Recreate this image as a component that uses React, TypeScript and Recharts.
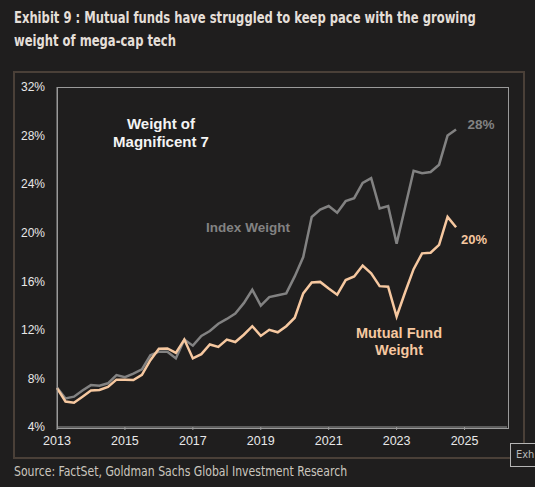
import { LineChart, Line, XAxis, YAxis } from 'recharts'

// quarterly points, Q1 2013 .. Q4 2024
const quarters = [
  2013, 2013.25, 2013.5, 2013.75, 2014, 2014.25, 2014.5, 2014.75,
  2015, 2015.25, 2015.5, 2015.75, 2016, 2016.25, 2016.5, 2016.75,
  2017, 2017.25, 2017.5, 2017.75, 2018, 2018.25, 2018.5, 2018.75,
  2019, 2019.25, 2019.5, 2019.75, 2020, 2020.25, 2020.5, 2020.75,
  2021, 2021.25, 2021.5, 2021.75, 2022, 2022.25, 2022.5, 2022.75,
  2023, 2023.25, 2023.5, 2023.75, 2024, 2024.25, 2024.5, 2024.75,
]

const indexWeight = [
  7.26, 6.35, 6.5, 7.0, 7.45, 7.4, 7.6, 8.28,
  8.1, 8.4, 8.75, 9.9, 10.2, 10.2, 9.65, 11.2,
  10.7, 11.5, 11.9, 12.5, 12.9, 13.35, 14.2, 15.3,
  14.0, 14.7, 14.85, 15.0, 16.4, 18.0, 21.3, 21.9,
  22.2, 21.65, 22.6, 22.85, 24.1, 24.5, 22.0, 22.2,
  19.1, 22.1, 25.1, 24.9, 25.0, 25.6, 28.0, 28.5,
]

const mutualFundWeight = [
  7.2, 6.1, 6.0, 6.5, 7.0, 7.05, 7.3, 7.9,
  7.9, 7.87, 8.3, 9.5, 10.45, 10.47, 10.1, 11.2,
  9.65, 10.0, 10.8, 10.6, 11.2, 11.0, 11.6, 12.3,
  11.5, 12.0, 11.8, 12.3, 13.0, 15.0, 15.9, 15.95,
  15.4, 14.9, 16.1, 16.4, 17.3, 16.65, 15.6, 15.55,
  13.1, 15.1, 17.0, 18.3, 18.35, 19.0, 21.3, 20.45,
]

const yTicks = [4, 8, 12, 16, 20, 24, 28, 32]
const xTicks = [2013, 2015, 2017, 2019, 2021, 2023, 2025]

const data = quarters.map(function (q, i) {
  return { date: q, index: indexWeight[i], mf: mutualFundWeight[i] }
})

const BG = '#1f1e1e'
const GREY = '#828282'
const PEACH = '#f6c8a0'
const condensed = '"DejaVu Sans Condensed", "DejaVu Sans", sans-serif'
const arial = '"Liberation Sans", Arial, sans-serif'

function Note(props: any) {
  return (
    <div style={{
      position: 'absolute',
      left: props.x,
      top: props.y,
      color: props.color,
      fontFamily: arial,
      fontWeight: 700,
      fontSize: props.size || 14,
      lineHeight: (props.lh || 18) + 'px',
      textAlign: 'center',
      whiteSpace: 'nowrap',
      transform: 'translateX(-50%)',
    }}>
      {props.children}
    </div>
  )
}

export default function App() {
  return (
    <div style={{
      position: 'absolute',
      left: 0,
      top: 0,
      width: 535,
      height: 487,
      background: BG,
      overflow: 'hidden',
    }}>
      {/* title, squeezed to look like the condensed house font */}
      <div style={{
        position: 'absolute',
        left: 14,
        top: 7,
        color: '#e4dfd8',
        fontFamily: condensed,
        fontWeight: 700,
        fontSize: 15,
        lineHeight: '23px',
        whiteSpace: 'nowrap',
        transform: 'scaleX(0.858)',
        transformOrigin: 'left top',
      }}>
        Exhibit 9 : Mutual funds have struggled to keep pace with the growing
        <br />
        weight of mega-cap tech
      </div>

      {/* outer frame */}
      <div style={{
        position: 'absolute',
        left: 13,
        top: 71,
        width: 508,
        height: 384,
        border: '2px solid #4a4038',
      }} />

      {/* plot box */}
      <div style={{
        position: 'absolute',
        left: 57,
        top: 87,
        width: 450,
        height: 340,
        border: '1px solid #9a9a9a',
      }} />

      <div style={{ position: 'absolute', left: 0, top: 0 }}>
        <LineChart
          width={535}
          height={487}
          data={data}
          margin={{ top: 87, right: 28, bottom: 30, left: 0 }}
        >
          <XAxis
            dataKey="date"
            type="number"
            domain={[2013, 2026.25]}
            ticks={xTicks}
            tick={{ fontSize: 12.5, fill: '#e8e8e8', fontFamily: arial }}
            axisLine={{ stroke: '#9a9a9a' }}
            tickLine={{ stroke: '#9a9a9a' }}
            tickSize={3}
            tickMargin={6}
            height={30}
          />
          <YAxis
            domain={[4, 32]}
            ticks={yTicks}
            tickFormatter={function (v: number) { return v + '%' }}
            tick={{ fontSize: 12, fill: '#e8e8e8', fontFamily: arial }}
            axisLine={{ stroke: '#9a9a9a' }}
            tickLine={false}
            tickMargin={6}
            width={57}
          />
          <Line
            dataKey="index"
            stroke={GREY}
            strokeWidth={2.5}
            dot={false}
            isAnimationActive={false}
          />
          <Line
            dataKey="mf"
            stroke={PEACH}
            strokeWidth={2.5}
            dot={false}
            isAnimationActive={false}
          />
        </LineChart>
      </div>

      <Note x={161} y={115} color="#f4f4f4" size={15}>
        Weight of
        <br />
        Magnificent 7
      </Note>
      <Note x={248} y={219} color={GREY} size={13.5}>Index Weight</Note>
      <Note x={481} y={116} color={GREY} size={13.5}>28%</Note>
      <Note x={474} y={231} color={PEACH} size={13}>20%</Note>
      <Note x={399} y={325} color={PEACH} size={14.5} lh={17}>
        Mutual Fund
        <br />
        Weight
      </Note>

      <div style={{
        position: 'absolute',
        left: 14,
        top: 463,
        color: '#cbc6bf',
        fontFamily: condensed,
        fontSize: 14,
        whiteSpace: 'nowrap',
        transform: 'scaleX(0.865)',
        transformOrigin: 'left top',
      }}>
        Source: FactSet, Goldman Sachs Global Investment Research
      </div>

      {/* clipped tab at the bottom-right edge */}
      <div style={{
        position: 'absolute',
        left: 510,
        top: 443,
        width: 25,
        height: 24,
        boxSizing: 'border-box',
        border: '1px solid #b5b5b5',
        borderRight: 'none',
        background: BG,
        color: '#b8b8b8',
        fontFamily: condensed,
        fontSize: 11,
        lineHeight: '22px',
        paddingLeft: 5,
        whiteSpace: 'nowrap',
      }}>
        Exh
      </div>
    </div>
  )
}
